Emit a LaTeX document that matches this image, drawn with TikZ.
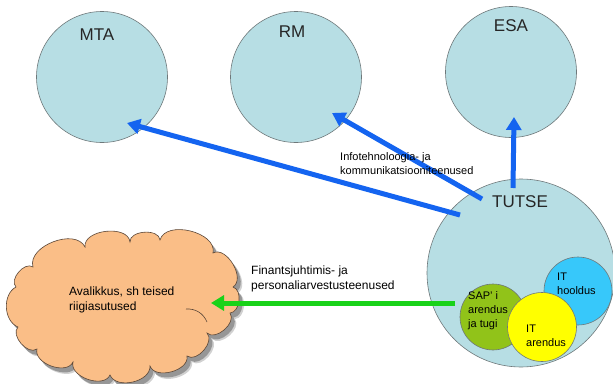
\documentclass[tikz,border=0pt]{standalone}
\usepackage{fontspec}
\setmainfont{Liberation Sans}
\usetikzlibrary{arrows.meta}

\definecolor{orgfill}{RGB}{183,222,228}
\definecolor{orgline}{RGB}{110,120,122}
\definecolor{cloudfill}{RGB}{250,190,135}
\definecolor{cloudline}{RGB}{90,70,55}
\definecolor{flowblue}{RGB}{20,100,240}
\definecolor{flowgreen}{RGB}{25,210,25}
\definecolor{hoolduscol}{RGB}{55,200,250}
\definecolor{sapcol}{RGB}{145,195,25}
\definecolor{arenduscol}{RGB}{255,255,0}

% outline of the public sector cloud, puff by puff
\newcommand{\publiccloud}{%
  (33,267) to[bend left=85] (85,247) to[bend left=90] (130,242)
  to[bend left=90] (160,240) to[bend left=88] (213,253)
  to[bend left=88] (233,287) to[bend left=80] (230,313)
  to[bend left=85] (207,333) to[bend left=85] (187,356)
  to[bend left=85] (150,366) to[bend left=80] (110,375)
  to[bend left=85] (73,362) to[bend left=85] (37,349)
  to[bend left=85] (18,327) to[bend left=65] (16,287)
  to[bend left=85] (33,267) -- cycle}

\begin{document}
\begin{tikzpicture}[x=1pt,y=-1pt,
  org/.style={circle, draw=orgline, line width=0.6pt, fill=orgfill, inner sep=0pt},
  unit/.style={circle, draw=orgline, line width=0.6pt, inner sep=0pt},
  bigname/.style={font=\fontsize{17}{20}\selectfont, text=black!85, inner sep=0pt},
  smalltext/.style={font=\fontsize{11}{14}\selectfont, align=left, anchor=west, inner sep=0pt, text=black},
  labeltext/.style={font=\fontsize{12}{15}\selectfont, align=left, anchor=west, inner sep=0pt, text=black},
  bluearrow/.style={draw=flowblue, line width=5pt, -{Triangle[length=13pt,width=15pt]}},
  greenarrow/.style={draw=flowgreen, line width=5pt, -{Triangle[length=13pt,width=15pt]}},
]
\useasboundingbox (0,0) rectangle (613,383);
\fill[white] (0,0) rectangle (613,383);

% target organisations
\node[org, minimum size=131pt] (mta) at (102,77) {};
\node[org, minimum size=131pt] (rm)  at (296,77) {};
\node[org, minimum size=131pt] (esa) at (511,72) {};
\node[bigname] (mtaname) at (97,35) {MTA};
\node[bigname] (rmname)  at (292,32) {RM};
\node[bigname] (esaname) at (511,26) {ESA};

% service centre and its units
\node[org, minimum size=188pt] (tutse) at (521,273) {};
\node[bigname] (tutsename) at (520,202) {TUTSE};
\node[unit, fill=sapcol, minimum size=66pt] (sap) at (493,317) {};
\node[unit, fill=hoolduscol, minimum size=68pt] (hooldus) at (578,291) {};
\node[unit, fill=arenduscol, minimum size=69pt] (arendus) at (542,327) {};
\node[smalltext] (saptext) at (468,311) {SAP' i\\arendus\\ja tugi};
\node[smalltext] (hooldustext) at (557,284) {IT\\hooldus};
\node[smalltext] (arendustext) at (526,336) {IT\\arendus};

% public sector cloud with its soft shadow
\fill[black, opacity=0.18, shift={(5,6)}] \publiccloud;
\fill[black, opacity=0.28, shift={(3.5,4.5)}] \publiccloud;
\filldraw[fill=cloudfill, draw=cloudline, line width=0.6pt] \publiccloud;
\draw[cloudline, line width=0.6pt] (186,309) to[bend left=35] (207,322);
\node[labeltext] (avalikkustext) at (69,300) {Avalikkus, sh teised\\riigiasutused};

% arrow ends
\coordinate (tailmta) at (460,215);
\coordinate (headmta) at (127,123);
\coordinate (tailrm)  at (482,199);
\coordinate (headrm)  at (332,113);
\coordinate (tailesa) at (513,188);
\coordinate (headesa) at (514,117);
\coordinate (tailpub) at (455,303);
\coordinate (headpub) at (211,303);

% service flows
\draw[bluearrow] (tailmta) -- (headmta);
\draw[bluearrow] (tailrm) -- (headrm);
\draw[bluearrow] (tailesa) -- (headesa);
\draw[greenarrow] (tailpub) -- (headpub);

\node[smalltext] (ikt) at (340,164) {Infotehnoloogia- ja\\kommunikatsiooniteenused};
\node[labeltext] (fin) at (251,279) {Finantsjuhtimis- ja\\personaliarvestusteenused};
\end{tikzpicture}
\end{document}
